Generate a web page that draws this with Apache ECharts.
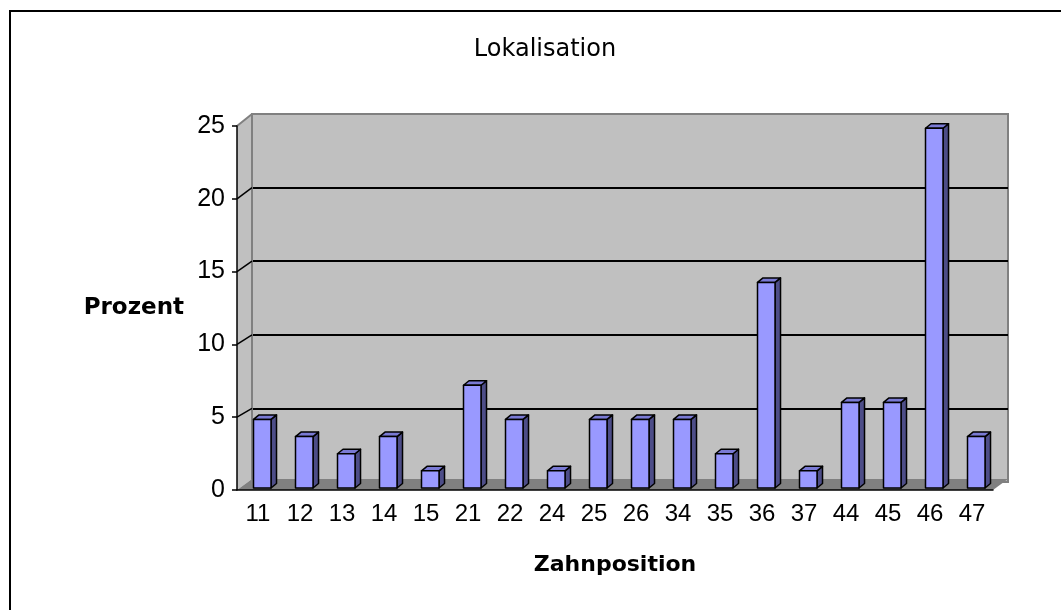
<!DOCTYPE html>
<html>
<head>
<meta charset="utf-8">
<script src="https://cdn.jsdelivr.net/npm/echarts@6/dist/echarts.min.js"></script>
<style>
html,body{margin:0;padding:0;background:#fff;}
#main{width:1061px;height:610px;}
</style>
</head>
<body>
<div id="main"></div>
<script>
// Zahnpositionen und Anteil in Prozent
var positions = ['11','12','13','14','15','21','22','24','25','26','34','35','36','37','44','45','46','47'];
var prozent = [4.71, 3.53, 2.35, 3.53, 1.18, 7.06, 4.71, 1.18, 4.71, 4.71, 4.71, 2.35, 14.12, 1.18, 5.88, 5.88, 24.71, 3.53];
var yTicks = [0, 5, 10, 15, 20, 25];

// front plane (axes) and back wall
var FL = 237, FR = 993, FT = 126, FB = 490;
var BL = 252, BR = 1008, BT = 114, BB = 482;
var yMax = 25;

function frontY(v) { return FB - v * (FB - FT) / yMax; }
function backY(v) { return BB - v * (BB - BT) / yMax; }

var myChart = echarts.init(document.getElementById('main'));

var graphics = [
    {
        type: 'rect', z: 0,
        shape: { x: 10, y: 11, width: 1100, height: 700 },
        style: { fill: null, stroke: '#000', lineWidth: 2 }
    },
    // side wall
    {
        type: 'polygon', z: 1,
        shape: { points: [[FL, FT], [BL, BT], [BL, 479], [FL, FB]] },
        style: { fill: '#c0c0c0' }
    },
    // floor
    {
        type: 'polygon', z: 1,
        shape: { points: [[FL, FB], [BL, 479], [BR, 479], [FR, FB]] },
        style: { fill: '#808080' }
    },
    {
        type: 'line', z: 1,
        shape: { x1: BL, y1: BT, x2: BL, y2: 479 },
        style: { stroke: '#808080', lineWidth: 2 }
    }
];
yTicks.forEach(function (v) {
    if (v === 0) return;
    graphics.push({
        type: 'line', z: 1,
        shape: { x1: FL, y1: frontY(v), x2: BL, y2: backY(v) },
        style: { stroke: v === yMax ? '#808080' : '#000', lineWidth: v === yMax ? 2 : 1.5 }
    });
});

option = {
    backgroundColor: '#fff',
    animation: false,
    title: {
        text: 'Lokalisation',
        left: 540,
        top: 33,
        textAlign: 'center',
        textStyle: {
            fontFamily: 'DejaVu Sans',
            fontWeight: 'normal',
            fontSize: 24,
            color: '#000'
        }
    },
    graphic: graphics,
    grid: [
        {
            // front plane
            left: FL, right: 1061 - FR, top: FT, bottom: 610 - FB,
            show: false
        },
        {
            // back wall
            left: BL, right: 1061 - BR, top: BT, bottom: 610 - BB,
            show: true,
            backgroundColor: '#c0c0c0',
            borderColor: '#808080',
            borderWidth: 2
        }
    ],
    xAxis: [
        {
            type: 'category',
            gridIndex: 0,
            data: positions,
            z: 5,
            name: 'Zahnposition',
            nameLocation: 'middle',
            nameGap: 64,
            nameTextStyle: {
                fontFamily: 'DejaVu Sans',
                fontWeight: 'bold',
                fontSize: 22,
                color: '#000'
            },
            axisLine: { lineStyle: { color: '#000', width: 1.5 } },
            axisTick: { length: 6, lineStyle: { color: '#000', width: 1.5 } },
            axisLabel: {
                fontFamily: 'Liberation Sans',
                fontSize: 24,
                color: '#000',
                margin: 12,
                interval: 0
            }
        },
        {
            type: 'category',
            gridIndex: 1,
            data: positions,
            show: false
        }
    ],
    yAxis: [
        {
            type: 'value',
            gridIndex: 0,
            min: 0,
            max: yMax,
            interval: 5,
            z: 5,
            name: 'Prozent',
            nameLocation: 'middle',
            nameRotate: 0,
            nameGap: 53,
            nameTextStyle: {
                fontFamily: 'DejaVu Sans',
                fontWeight: 'bold',
                fontSize: 23,
                color: '#000'
            },
            axisLine: { show: true, lineStyle: { color: '#000', width: 1.5 } },
            axisTick: { show: true, length: 5, lineStyle: { color: '#000', width: 1.5 } },
            axisLabel: {
                fontFamily: 'Liberation Sans',
                fontSize: 25,
                color: '#000',
                margin: 12
            },
            splitLine: { show: false }
        },
        {
            type: 'value',
            gridIndex: 1,
            min: 0,
            max: yMax,
            interval: 5,
            axisLine: { show: false },
            axisTick: { show: false },
            axisLabel: { show: false },
            splitLine: {
                show: true,
                showMinLine: false,
                showMaxLine: false,
                lineStyle: { color: '#000', width: 2 }
            }
        }
    ],
    series: [
        {
            type: 'custom',
            xAxisIndex: 0,
            yAxisIndex: 0,
            z: 3,
            data: prozent.map(function (v, i) { return [i, v]; }),
            renderItem: function (params, api) {
                var top = api.coord([api.value(0), api.value(1)]);
                var base = api.coord([api.value(0), 0]);
                var band = api.size([1, 0])[0];
                var l = top[0] - band * 0.107;
                var r = l + band * 0.417;
                var t = top[1] - 2;
                var b = base[1] - 2;
                var dx = 5.5, dy = -4.5;
                var line = { stroke: '#000', lineWidth: 1.5, lineJoin: 'round' };
                return {
                    type: 'group',
                    children: [
                        {
                            type: 'polygon',
                            shape: { points: [[r, t], [r + dx, t + dy], [r + dx, b + dy], [r, b]] },
                            style: Object.assign({ fill: '#4d4d88' }, line)
                        },
                        {
                            type: 'polygon',
                            shape: { points: [[l, t], [l + dx, t + dy], [r + dx, t + dy], [r, t]] },
                            style: Object.assign({ fill: '#7a7ad4' }, line)
                        },
                        {
                            type: 'rect',
                            shape: { x: l, y: t, width: r - l, height: b - t },
                            style: Object.assign({ fill: '#9999ff' }, line)
                        }
                    ]
                };
            }
        }
    ]
};

myChart.setOption(option);
</script>
</body>
</html>
